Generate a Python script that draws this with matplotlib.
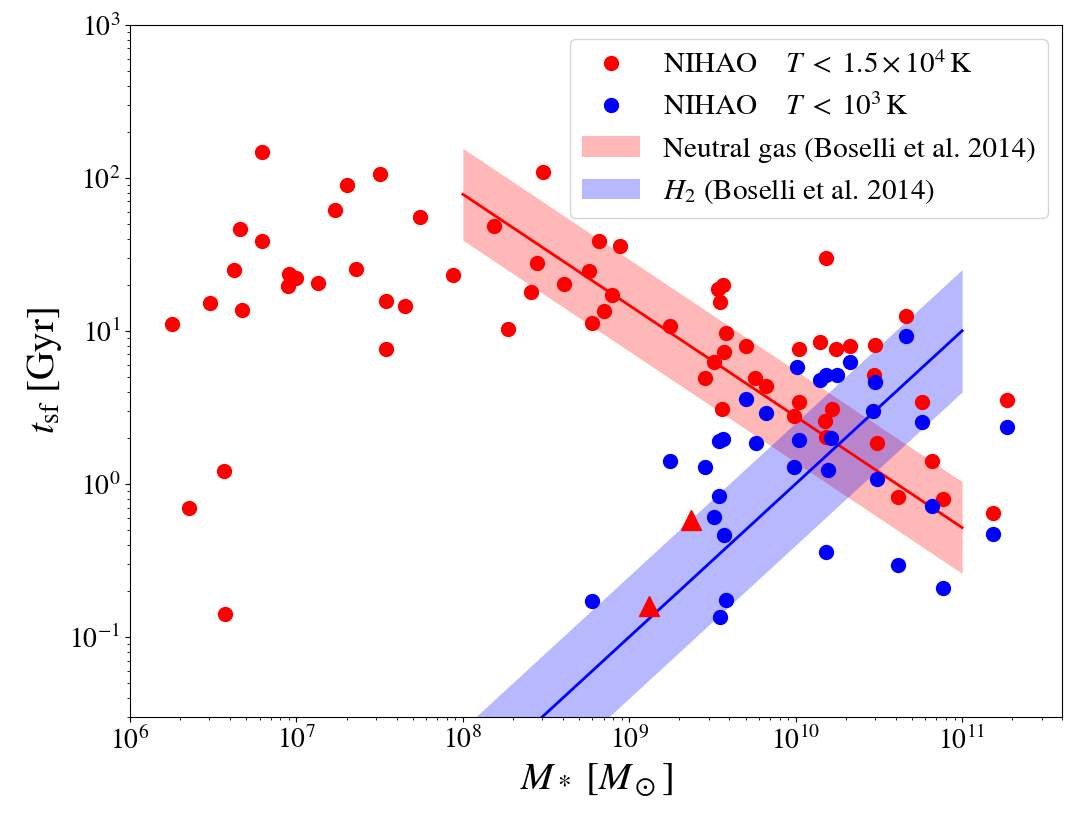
import numpy as np
import matplotlib
matplotlib.use("Agg")
import matplotlib.pyplot as plt

plt.rcParams["font.family"] = "STIXGeneral"
plt.rcParams["mathtext.fontset"] = "stix"

# NIHAO, T < 1.5e4 K (red circles)
red_mass = [1.78e6, 6.19e6, 4.60e6, 6.21e6, 4.20e6, 3.04e6, 4.73e6, 9.06e6, 1.00e7, 8.90e6,
            1.34e7, 2.02e7, 1.70e7, 3.19e7, 2.28e7, 3.45e7, 4.49e7, 3.44e7, 5.55e7, 8.77e7,
            3.66e6, 2.26e6, 3.74e6, 3.05e8, 1.53e8, 6.61e8, 8.77e8, 2.78e8, 5.71e8, 4.04e8,
            2.57e8, 7.85e8, 7.06e8, 5.95e8, 1.86e8, 1.75e9, 3.68e9, 3.43e9, 3.50e9, 3.82e9,
            5.03e9, 3.70e9, 3.23e9, 2.85e9, 5.73e9, 6.64e9, 3.61e9, 1.04e10, 1.04e10, 9.82e9,
            1.52e10, 4.59e10, 1.40e10, 1.75e10, 2.11e10, 3.00e10, 2.95e10, 1.65e10, 1.50e10, 1.52e10,
            5.77e10, 1.87e11, 3.07e10, 6.60e10, 4.11e10, 7.69e10, 1.54e11]
red_tsf = [11.1, 148, 46.2, 38.9, 24.8, 15.2, 13.7, 23.5, 22.1, 19.7,
           20.4, 89.6, 61.8, 106, 25.3, 15.7, 14.5, 7.59, 55.0, 23.2,
           1.21, 0.69, 0.140, 109, 48.6, 38.9, 35.9, 27.9, 24.7, 20.2,
           18.0, 17.1, 13.4, 11.3, 10.35, 10.8, 19.8, 18.7, 15.5, 9.66,
           8.01, 7.26, 6.24, 4.95, 4.91, 4.37, 3.10, 7.59, 3.40, 2.78,
           29.7, 12.4, 8.39, 7.66, 7.90, 8.06, 5.13, 3.09, 2.59, 2.02,
           3.40, 3.52, 1.85, 1.41, 0.818, 0.798, 0.649]

# NIHAO, T < 1e3 K (blue circles)
blue_mass = [5.03e9, 6.64e9, 1.015e10, 3.66e9, 3.46e9, 5.76e9, 1.048e10, 1.76e9, 2.85e9, 9.82e9,
             1.56e10, 3.46e9, 3.25e9, 3.71e9, 1.51e10, 5.95e8, 3.82e9, 3.50e9, 4.59e10, 1.40e10,
             1.52e10, 1.77e10, 2.11e10, 3.00e10, 1.64e10, 2.93e10, 5.77e10, 1.87e11, 3.08e10, 6.60e10,
             1.54e11, 4.11e10, 7.69e10]
blue_tsf = [3.58, 2.90, 5.84, 1.96, 1.90, 1.85, 1.93, 1.40, 1.28, 1.29,
            1.24, 0.835, 0.611, 0.462, 0.356, 0.172, 0.173, 0.1345, 9.18, 4.80,
            5.16, 5.16, 6.24, 4.66, 1.99, 3.01, 2.52, 2.35, 1.08, 0.715,
            0.471, 0.297, 0.209]

# red triangles
tri_mass = [2.36e9, 1.31e9]
tri_tsf = [0.576, 0.160]

# Boselli et al. 2014 relations: log t = a + b (log M - 10), scatter in dex
neutral_a, neutral_b, neutral_sig = 0.44, -0.726, 0.3
h2_a, h2_b, h2_sig = 0.0, 1.0, 0.4

logm = np.linspace(8, 11, 50)
m = 10**logm
t_neutral = neutral_a + neutral_b * (logm - 10)
t_h2 = h2_a + h2_b * (logm - 10)

fig = plt.figure(figsize=(10.84, 8.24), dpi=100)
ax = fig.add_axes([0.12, 0.13, 0.86, 0.84])

ax.fill_between(m, 10**(t_neutral - neutral_sig), 10**(t_neutral + neutral_sig),
                color="red", alpha=0.28, lw=0, label="Neutral gas (Boselli et al. 2014)")
ax.fill_between(m, 10**(t_h2 - h2_sig), 10**(t_h2 + h2_sig),
                color="blue", alpha=0.28, lw=0, label=r"$H_2$ (Boselli et al. 2014)")
ax.plot(m, 10**t_neutral, color="red", lw=2)
ax.plot(m, 10**t_h2, color="blue", lw=2)

ax.plot(red_mass, red_tsf, "o", color="red", ms=10, ls="none",
        label=r"NIHAO $\quad T\; <\; 1.5 \times 10^4\,\mathrm{K}$")
ax.plot(tri_mass, tri_tsf, "^", color="red", ms=14, ls="none")
ax.plot(blue_mass, blue_tsf, "o", color="blue", ms=10, ls="none",
        label=r"NIHAO $\quad T\; <\; 10^3\,\mathrm{K}$")

ax.set_xscale("log")
ax.set_yscale("log")
ax.set_xlim(1e6, 4e11)
ax.set_ylim(0.03, 1e3)
ax.tick_params(labelsize=20)
ax.set_xlabel(r"$M_*\ [M_\odot]$", fontsize=28)
ax.set_ylabel(r"$t_{\rm sf}$ [Gyr]", fontsize=28)

handles, labels = ax.get_legend_handles_labels()
order = [2, 3, 0, 1]
ax.legend([handles[i] for i in order], [labels[i] for i in order],
          loc="upper right", fontsize=21, numpoints=1)

fig.savefig("out.png", dpi=100)
